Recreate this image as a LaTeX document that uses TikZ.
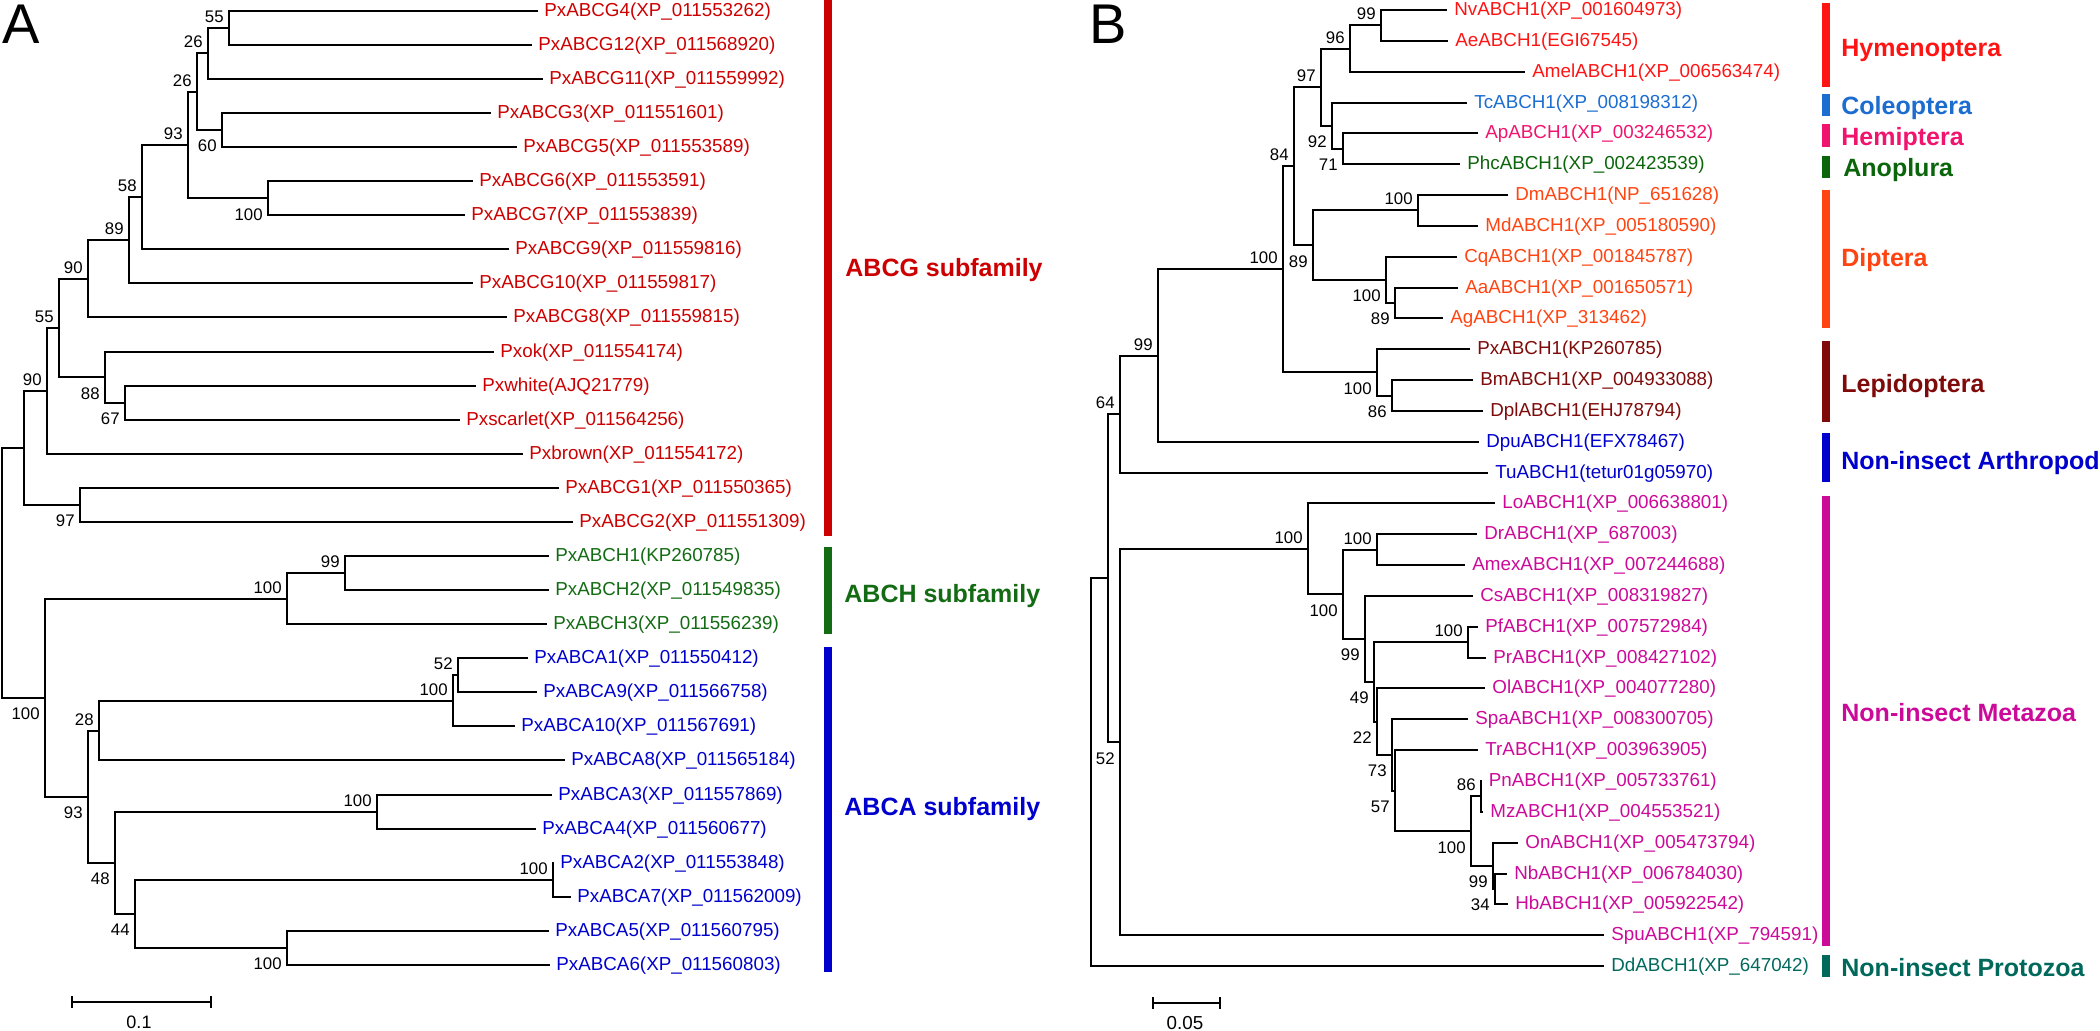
\documentclass[tikz,border=0pt]{standalone}
\usepackage{fontspec}
\setmainfont{Liberation Sans}
\usetikzlibrary{calc}
\definecolor{gred}{HTML}{CC0000}
\definecolor{agreen}{HTML}{136B13}
\definecolor{ablue}{HTML}{0000CC}
\definecolor{hym}{HTML}{FF1414}
\definecolor{cole}{HTML}{1C6DD0}
\definecolor{hemi}{HTML}{F0146E}
\definecolor{anop}{HTML}{0B650B}
\definecolor{dipt}{HTML}{FF4411}
\definecolor{lepi}{HTML}{7F0A0A}
\definecolor{arth}{HTML}{0000CC}
\definecolor{meta}{HTML}{CC0A99}
\definecolor{proto}{HTML}{00695C}
\newcommand\lfA[5]{\coordinate (#1) at (#2,{10.7+34.08*#3});
  \node[leaf,text=#4,anchor=base west] (#1t) at ([xshift=3pt,yshift=-2.75pt]#1) {#5};}
\newcommand\lfB[5]{\coordinate (#1) at (#2,{10+30.84*#3});
  \node[leaf,text=#4,anchor=base west] (#1t) at ([xshift=3.5pt,yshift=-2.75pt]#1) {#5};}
\newcommand\tcl[4]{\path let \p1=($(#3)!0.5!(#4)$), \p2=(#2,0) in (\x2,\y1) coordinate (#1);
  \draw[br] (#3) -| (#1) |- (#4);}
\newcommand\bsa[2]{\node[bs,anchor=base east] (#1bs) at ([xshift=-2.5pt,yshift=2.75pt]#1) {#2};}
\newcommand\bsb[2]{\node[bs,anchor=base east] (#1bs) at ([xshift=-2.5pt,yshift=-11pt]#1) {#2};}
\begin{document}
\begin{tikzpicture}[x=0.5pt,y=-0.5pt,
  br/.style={line width=1pt},
  leaf/.style={font=\fontsize{9.4}{11}\selectfont, inner sep=0pt},
  bs/.style={font=\fontsize{8.4}{10}\selectfont, inner sep=0pt},
  grp/.style={font=\fontsize{12.5}{14}\selectfont\bfseries, inner sep=0pt, anchor=base west},
  panel/.style={font=\fontsize{28}{30}\selectfont, inner sep=0pt, anchor=base west}]
\useasboundingbox (0,0) rectangle (2100,1030);

% ---------------- Panel A ----------------
\node[panel] (pA) at (2,43) {A};
\lfA{aG4}{538}{0}{gred}{PxABCG4(XP\_011553262)}
\lfA{aG12}{532}{1}{gred}{PxABCG12(XP\_011568920)}
\lfA{aG11}{543}{2}{gred}{PxABCG11(XP\_011559992)}
\lfA{aG3}{491}{3}{gred}{PxABCG3(XP\_011551601)}
\lfA{aG5}{517}{4}{gred}{PxABCG5(XP\_011553589)}
\lfA{aG6}{473}{5}{gred}{PxABCG6(XP\_011553591)}
\lfA{aG7}{465}{6}{gred}{PxABCG7(XP\_011553839)}
\lfA{aG9}{509}{7}{gred}{PxABCG9(XP\_011559816)}
\lfA{aG10}{473}{8}{gred}{PxABCG10(XP\_011559817)}
\lfA{aG8}{507}{9}{gred}{PxABCG8(XP\_011559815)}
\lfA{aok}{494}{10}{gred}{Pxok(XP\_011554174)}
\lfA{awhite}{476}{11}{gred}{Pxwhite(AJQ21779)}
\lfA{ascarlet}{460}{12}{gred}{Pxscarlet(XP\_011564256)}
\lfA{abrown}{523}{13}{gred}{Pxbrown(XP\_011554172)}
\lfA{aG1}{559}{14}{gred}{PxABCG1(XP\_011550365)}
\lfA{aG2}{573}{15}{gred}{PxABCG2(XP\_011551309)}
\lfA{aH1}{549}{16}{agreen}{PxABCH1(KP260785)}
\lfA{aH2}{549}{17}{agreen}{PxABCH2(XP\_011549835)}
\lfA{aH3}{547}{18}{agreen}{PxABCH3(XP\_011556239)}
\lfA{aA1}{528}{19}{ablue}{PxABCA1(XP\_011550412)}
\lfA{aA9}{537}{20}{ablue}{PxABCA9(XP\_011566758)}
\lfA{aA10}{515}{21}{ablue}{PxABCA10(XP\_011567691)}
\lfA{aA8}{565}{22}{ablue}{PxABCA8(XP\_011565184)}
\lfA{aA3}{552}{23}{ablue}{PxABCA3(XP\_011557869)}
\lfA{aA4}{536}{24}{ablue}{PxABCA4(XP\_011560677)}
\lfA{aA2}{554}{25}{ablue}{PxABCA2(XP\_011553848)}
\lfA{aA7}{571}{26}{ablue}{PxABCA7(XP\_011562009)}
\lfA{aA5}{549}{27}{ablue}{PxABCA5(XP\_011560795)}
\lfA{aA6}{550}{28}{ablue}{PxABCA6(XP\_011560803)}

\tcl{aN55a}{229}{aG4}{aG12}
\tcl{aN26a}{208}{aN55a}{aG11}
\tcl{aN60}{222}{aG3}{aG5}
\tcl{aN26b}{197}{aN26a}{aN60}
\tcl{aN100g}{268}{aG6}{aG7}
\tcl{aN93}{188}{aN26b}{aN100g}
\tcl{aN58}{142}{aN93}{aG9}
\tcl{aN89}{129}{aN58}{aG10}
\tcl{aN90a}{88}{aN89}{aG8}
\tcl{aN67}{125}{awhite}{ascarlet}
\tcl{aN88}{105}{aok}{aN67}
\tcl{aN55b}{59}{aN90a}{aN88}
\tcl{aN90b}{47}{aN55b}{abrown}
\tcl{aN97}{80}{aG1}{aG2}
\tcl{aNG}{24}{aN90b}{aN97}
\tcl{aN99H}{345}{aH1}{aH2}
\tcl{aNH}{287}{aN99H}{aH3}
\tcl{aN52}{458}{aA1}{aA9}
\tcl{aN100A}{453}{aN52}{aA10}
\tcl{aN28}{99}{aN100A}{aA8}
\tcl{aN100c}{377}{aA3}{aA4}
\tcl{aN100d}{553}{aA2}{aA7}
\tcl{aN100e}{287}{aA5}{aA6}
\tcl{aN44}{135}{aN100d}{aN100e}
\tcl{aN48}{115}{aN100c}{aN44}
\tcl{aN93A}{88}{aN28}{aN48}
\tcl{aNHA}{45}{aNH}{aN93A}
\tcl{aRoot}{2}{aNG}{aNHA}

\bsa{aN55a}{55} \bsa{aN26a}{26} \bsa{aN26b}{26} \bsa{aN93}{93}
\bsa{aN58}{58} \bsa{aN89}{89} \bsa{aN90a}{90} \bsa{aN55b}{55}
\bsa{aN90b}{90} \bsa{aN99H}{99} \bsa{aNH}{100} \bsa{aN28}{28}
\bsa{aN100A}{100} \bsa{aN52}{52} \bsa{aN100c}{100} \bsa{aN100d}{100}
\bsb{aN60}{60} \bsb{aN100g}{100} \bsb{aN88}{88} \bsb{aN67}{67}
\bsb{aN97}{97} \bsb{aNHA}{100} \bsb{aN93A}{93} \bsb{aN48}{48}
\bsb{aN44}{44} \bsb{aN100e}{100}

\fill[gred] (824,0) rectangle (832,536);
\fill[agreen] (824,547) rectangle (832,634);
\fill[ablue] (824,647) rectangle (832,972);
\node[grp,text=gred] (gABCG) at (845,276) {ABCG subfamily};
\node[grp,text=agreen] (gABCH) at (844,602) {ABCH subfamily};
\node[grp,text=ablue] (gABCA) at (844,815) {ABCA subfamily};

\coordinate (sA1) at (72,1002); \coordinate (sA2) at (211,1002);
\draw[br] (sA1) -- (sA2);
\draw[br] ([yshift=3pt]sA1) -- ([yshift=-3pt]sA1);
\draw[br] ([yshift=3pt]sA2) -- ([yshift=-3pt]sA2);
\node[font=\fontsize{9}{10}\selectfont, inner sep=0pt, anchor=base] (sAl) at (139,1028) {0.1};

% ---------------- Panel B ----------------
\node[panel] (pB) at (1089,43) {B};
\lfB{bNv}{1447}{0}{hym}{NvABCH1(XP\_001604973)}
\lfB{bAe}{1448}{1}{hym}{AeABCH1(EGI67545)}
\lfB{bAmel}{1525}{2}{hym}{AmelABCH1(XP\_006563474)}
\lfB{bTc}{1467}{3}{cole}{TcABCH1(XP\_008198312)}
\lfB{bAp}{1478}{4}{hemi}{ApABCH1(XP\_003246532)}
\lfB{bPhc}{1460}{5}{anop}{PhcABCH1(XP\_002423539)}
\lfB{bDm}{1508}{6}{dipt}{DmABCH1(NP\_651628)}
\lfB{bMd}{1478}{7}{dipt}{MdABCH1(XP\_005180590)}
\lfB{bCq}{1457}{8}{dipt}{CqABCH1(XP\_001845787)}
\lfB{bAa}{1458}{9}{dipt}{AaABCH1(XP\_001650571)}
\lfB{bAg}{1443}{10}{dipt}{AgABCH1(XP\_313462)}
\lfB{bPx}{1470}{11}{lepi}{PxABCH1(KP260785)}
\lfB{bBm}{1473}{12}{lepi}{BmABCH1(XP\_004933088)}
\lfB{bDpl}{1483}{13}{lepi}{DplABCH1(EHJ78794)}
\lfB{bDpu}{1479}{14}{arth}{DpuABCH1(EFX78467)}
\lfB{bTu}{1488}{15}{arth}{TuABCH1(tetur01g05970)}
\lfB{bLo}{1495}{16}{meta}{LoABCH1(XP\_006638801)}
\lfB{bDr}{1477}{17}{meta}{DrABCH1(XP\_687003)}
\lfB{bAmex}{1465}{18}{meta}{AmexABCH1(XP\_007244688)}
\lfB{bCs}{1473}{19}{meta}{CsABCH1(XP\_008319827)}
\lfB{bPf}{1478}{20}{meta}{PfABCH1(XP\_007572984)}
\lfB{bPr}{1486}{21}{meta}{PrABCH1(XP\_008427102)}
\lfB{bOl}{1485}{22}{meta}{OlABCH1(XP\_004077280)}
\lfB{bSpa}{1468}{23}{meta}{SpaABCH1(XP\_008300705)}
\lfB{bTr}{1478}{24}{meta}{TrABCH1(XP\_003963905)}
\lfB{bPn}{1481.5}{25}{meta}{PnABCH1(XP\_005733761)}
\lfB{bMz}{1483}{26}{meta}{MzABCH1(XP\_004553521)}
\lfB{bOn}{1518}{27}{meta}{OnABCH1(XP\_005473794)}
\lfB{bNb}{1507}{28}{meta}{NbABCH1(XP\_006784030)}
\lfB{bHb}{1508}{29}{meta}{HbABCH1(XP\_005922542)}
\lfB{bSpu}{1604}{30}{meta}{SpuABCH1(XP\_794591)}
\lfB{bDd}{1604}{31}{proto}{DdABCH1(XP\_647042)}

\tcl{bN99a}{1381}{bNv}{bAe}
\tcl{bN96}{1350}{bN99a}{bAmel}
\tcl{bN71}{1343}{bAp}{bPhc}
\tcl{bN92}{1332}{bTc}{bN71}
\tcl{bN97}{1321}{bN96}{bN92}
\tcl{bN100dm}{1418}{bDm}{bMd}
\tcl{bN89b}{1395}{bAa}{bAg}
\tcl{bN100cq}{1386}{bCq}{bN89b}
\tcl{bN89}{1313}{bN100dm}{bN100cq}
\tcl{bN84}{1294}{bN97}{bN89}
\tcl{bN86}{1392}{bBm}{bDpl}
\tcl{bNLep}{1377}{bPx}{bN86}
\tcl{bNIns}{1283}{bN84}{bNLep}
\tcl{bN99}{1158}{bNIns}{bDpu}
\tcl{bN64}{1120}{bN99}{bTu}
\tcl{bN100c}{1377}{bDr}{bAmex}
\tcl{bN100d}{1468}{bPf}{bPr}
\tcl{bN86b}{1481}{bPn}{bMz}
\tcl{bN34}{1495}{bNb}{bHb}
\tcl{bN99c}{1493}{bOn}{bN34}
\tcl{bN100e}{1471}{bN86b}{bN99c}
\tcl{bN57}{1395}{bTr}{bN100e}
\tcl{bN73}{1392}{bSpa}{bN57}
\tcl{bN22}{1377}{bOl}{bN73}
\tcl{bN49}{1374}{bN100d}{bN22}
\tcl{bN99b}{1365}{bCs}{bN49}
\tcl{bN100b}{1343}{bN100c}{bN99b}
\tcl{bN100a}{1308}{bLo}{bN100b}
\tcl{bNMet}{1120}{bN100a}{bSpu}
\tcl{bN1}{1108}{bN64}{bNMet}
\tcl{bRoot}{1091}{bN1}{bDd}

\bsa{bN99a}{99} \bsa{bN96}{96} \bsa{bN97}{97} \bsa{bN84}{84}
\bsa{bN100dm}{100} \bsa{bNIns}{100} \bsa{bN99}{99} \bsa{bN64}{64}
\bsa{bN100a}{100} \bsa{bN100c}{100} \bsa{bN100d}{100} \bsa{bN86b}{86}
\bsb{bN92}{92} \bsb{bN71}{71} \bsb{bN89}{89} \bsb{bN100cq}{100}
\bsb{bN89b}{89} \bsb{bNLep}{100} \bsb{bN86}{86} \bsb{bNMet}{52}
\bsb{bN100b}{100} \bsb{bN99b}{99} \bsb{bN49}{49} \bsb{bN22}{22}
\bsb{bN73}{73} \bsb{bN57}{57} \bsb{bN100e}{100} \bsb{bN99c}{99}
\bsb{bN34}{34}

\fill[hym] (1822,3) rectangle (1830,87);
\fill[cole] (1822,94) rectangle (1830,116);
\fill[hemi] (1822,124) rectangle (1830,147);
\fill[anop] (1822,156) rectangle (1830,178);
\fill[dipt] (1822,190) rectangle (1830,328);
\fill[lepi] (1822,341) rectangle (1830,422);
\fill[arth] (1822,433) rectangle (1830,482);
\fill[meta] (1822,496) rectangle (1830,946);
\fill[proto] (1822,955) rectangle (1830,977);
\node[grp,text=hym] (gHym) at (1841,56) {Hymenoptera};
\node[grp,text=cole] (gCol) at (1841,114) {Coleoptera};
\node[grp,text=hemi] (gHem) at (1841,145) {Hemiptera};
\node[grp,text=anop] (gAno) at (1843,176) {Anoplura};
\node[grp,text=dipt] (gDip) at (1841,266) {Diptera};
\node[grp,text=lepi] (gLep) at (1841,392) {Lepidoptera};
\node[grp,text=arth] (gArt) at (1841,469) {Non-insect Arthropod};
\node[grp,text=meta] (gMet) at (1841,721) {Non-insect Metazoa};
\node[grp,text=proto] (gPro) at (1841,976) {Non-insect Protozoa};

\coordinate (sB1) at (1153,1003); \coordinate (sB2) at (1220,1003);
\draw[br] (sB1) -- (sB2);
\draw[br] ([yshift=3pt]sB1) -- ([yshift=-3pt]sB1);
\draw[br] ([yshift=3pt]sB2) -- ([yshift=-3pt]sB2);
\node[font=\fontsize{9.4}{10}\selectfont, inner sep=0pt, anchor=base] (sBl) at (1185,1029) {0.05};
\end{tikzpicture}
\end{document}
